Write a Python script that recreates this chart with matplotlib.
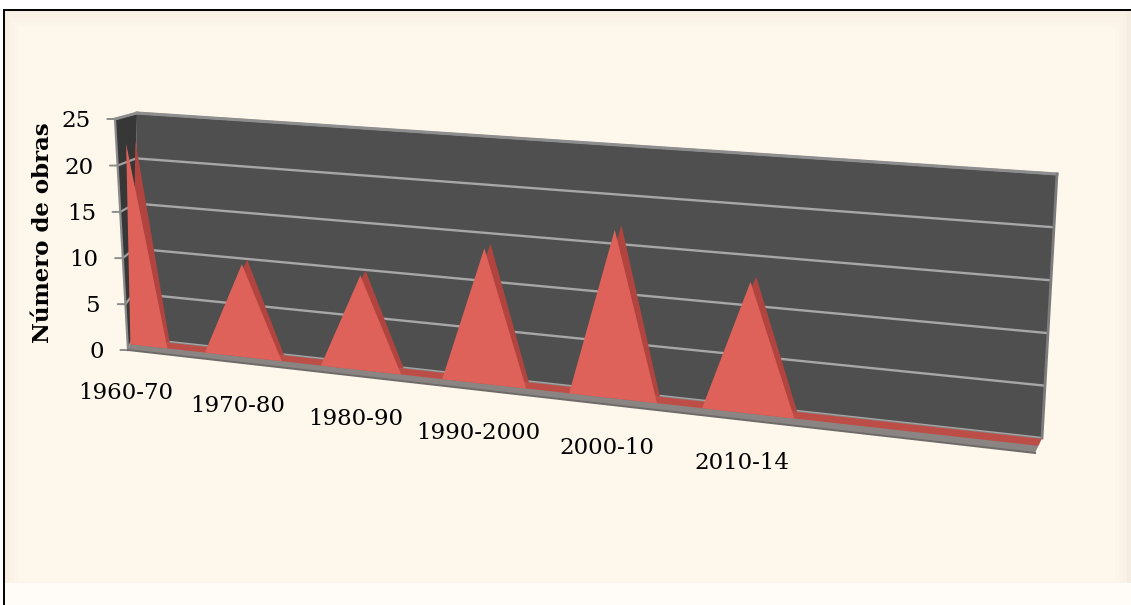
import numpy as np
import matplotlib
matplotlib.use("Agg")
import matplotlib.pyplot as plt
from matplotlib import transforms as mtransforms
from matplotlib.patches import Polygon, Rectangle

# ---------------------------------------------------------------- data
categories = ["1960-70", "", "", "1970-80", "", "", "1980-90", "", "",
              "1990-2000", "", "", "2000-10", "", "", "2010-14",
              "", "", "", "", "", ""]
obras = [22, 0, 0, 10, 0, 0, 10, 0, 0, 14, 0, 0, 17, 0, 0, 13,
         0, 0, 0, 0, 0, 0]
y_ticks = [0, 5, 10, 15, 20, 25]
y_title = "Número de obras"

# ---------------------------------------------------------------- geometry of the 3-D box
W, H, DPI = 1131, 605, 100
X_MAX = len(categories) - 1
Y_MAX = y_ticks[-1]

# back wall corners (s, v) -> canvas pixels
WALL_SRC = [(0, 0), (0, 1), (1, 1), (1, 0)]
WALL_DST = [(133, 338), (137, 113), (1057, 174), (1042, 438)]
# screen displacement of one unit of depth at the same corners
DEPTH_VEC = np.array([(-5.0, 12.0), (-22.0, 6.0), (-16.0, 10.0), (-7.0, 15.0)])
Z_BACK, Z_FRONT = 0.06, 0.52            # depth span of the area series


def fit_homography(src, dst):
    rows, rhs = [], []
    for (x, y), (u, w) in zip(src, dst):
        rows.append([x, y, 1, 0, 0, 0, -u * x, -u * y]); rhs.append(u)
        rows.append([0, 0, 0, x, y, 1, -w * x, -w * y]); rhs.append(w)
    h = np.linalg.solve(np.array(rows, float), np.array(rhs, float))
    return np.append(h, 1.0).reshape(3, 3)


HOMO = fit_homography(WALL_SRC, WALL_DST)


def project(X, Y, Z):
    s = np.asarray(X, float) / X_MAX
    v = np.asarray(Y, float) / Y_MAX
    p = HOMO @ np.vstack([s, v, np.ones_like(s)])
    back = (p[:2] / p[2]).T
    wts = np.column_stack([(1 - s) * (1 - v), (1 - s) * v, s * v, s * (1 - v)])
    return back + wts @ DEPTH_VEC * np.asarray(Z, float)[:, None]


class BoxProjection(mtransforms.Transform):
    """Maps 2-D coordinates lying in one plane of the chart box to canvas pixels."""
    input_dims = output_dims = 2
    is_separable = False
    has_inverse = False

    def __init__(self, fixed, level):
        super().__init__()
        self.fixed, self.level = fixed, level

    def transform_non_affine(self, values):
        a = np.asarray(values, float).reshape(-1, 2)
        u, w = a[:, 0], a[:, 1]
        lv = np.full_like(u, self.level)
        if self.fixed == "z":        # (category, value)
            return project(u, w, lv)
        if self.fixed == "y":        # (category, depth)
            return project(u, lv, w)
        return project(lv, w, u)     # fixed "x": (depth, value)


# ---------------------------------------------------------------- figure
fig = plt.figure(figsize=(W / DPI, H / DPI), dpi=DPI, facecolor="white")
ax = fig.add_axes([0, 0, 1, 1])
ax.set_xlim(0, W)
ax.set_ylim(H, 0)
ax.axis("off")


def plane(fixed, level):
    return BoxProjection(fixed, level) + ax.transData


# chart area with soft bevel
ax.add_patch(Rectangle((4, 10), W + 20, H + 20, facecolor="#F6EDE2",
                       edgecolor="black", lw=1.4, zorder=0))
for k, col in enumerate(["#F9F1E6", "#FBF3E8", "#FCF5EA", "#FEF7EC"]):
    ax.add_patch(Rectangle((6 + 4 * k, 12 + 5 * k), W - 10 - 8 * k, 572 - 6 * k,
                           facecolor=col, edgecolor="none", zorder=0.1 + k * 0.01))
ax.add_patch(Rectangle((5, 583), W, 30, facecolor="#FFFCF7", edgecolor="none", zorder=0.2))

# walls
ax.add_patch(Polygon([[0, 0], [X_MAX, 0], [X_MAX, Y_MAX], [0, Y_MAX]], closed=True,
                     transform=plane("z", 0), facecolor="#4F4F4F", edgecolor="none", zorder=1))
ax.add_patch(Polygon([[0, 0], [0, Y_MAX], [1, Y_MAX], [1, 0]], closed=True,
                     transform=plane("x", 0), facecolor="#373737", edgecolor="none", zorder=1))

# gridlines on back and side walls, ticks and tick labels
for yv in y_ticks:
    ax.plot([0, X_MAX], [yv, yv], transform=plane("z", 0), color="#A7A7A7",
            lw=1.7, solid_capstyle="butt", zorder=2)
    ax.plot([0, 1], [yv, yv], transform=plane("x", 0), color="#A0A0A0",
            lw=1.6, solid_capstyle="butt", zorder=2)
    ax.annotate("", xy=(1, yv), xycoords=plane("x", 0), xytext=(-5.5, 0),
                textcoords="offset points",
                arrowprops=dict(arrowstyle="-", color="#8C8C8C", lw=1.4,
                                shrinkA=0, shrinkB=0), zorder=2)
    ax.annotate(str(yv), xy=(1, yv), xycoords=plane("x", 0), xytext=(-17.5, -1.5),
                textcoords="offset points", ha="right", va="center",
                fontsize=16.5, family="DejaVu Serif", color="black", zorder=5)

# wall rims
ax.plot([0, X_MAX], [Y_MAX, Y_MAX], transform=plane("z", 0), color="#8E8E8E", lw=2.2, zorder=2.1)
ax.plot([X_MAX, X_MAX], [0, Y_MAX], transform=plane("z", 0), color="#7C7C7C", lw=2.0, zorder=2.1)
ax.plot([0, 1], [Y_MAX, Y_MAX], transform=plane("x", 0), color="#8E8E8E", lw=2.0, zorder=2.1)
ax.plot([1, 1], [0, Y_MAX], transform=plane("x", 0), color="#8A8A8A", lw=1.6, zorder=2.1)

# floor
ax.add_patch(Polygon([[0, 0], [X_MAX, 0], [X_MAX, 1], [0, 1]], closed=True,
                     transform=plane("y", 0), facecolor="#8A8583", edgecolor="none", zorder=3))
ax.plot([0, X_MAX], [1, 1], transform=plane("y", 0), color="#6E6A68", lw=1.4, zorder=3.1)

# area series: back face, top face at zero and front face
xs = np.arange(len(obras))
outline = np.column_stack([np.r_[xs, X_MAX, 0], np.r_[obras, 0, 0]])
ax.add_patch(Polygon(outline, closed=True, transform=plane("z", Z_BACK),
                     facecolor="#B1443E", edgecolor="none", zorder=4))
ax.add_patch(Polygon([[0, Z_BACK], [X_MAX, Z_BACK], [X_MAX, Z_FRONT], [0, Z_FRONT]], closed=True,
                     transform=plane("y", 0), facecolor="#BD4D47", edgecolor="none", zorder=4.1))
ax.add_patch(Polygon(outline, closed=True, transform=plane("z", Z_FRONT),
                     facecolor="#DF625A", edgecolor="none", zorder=4.2))

# category labels
for i, lab in enumerate(categories):
    if lab:
        ax.annotate(lab, xy=(i, 1.0), xycoords=plane("y", 0), xytext=(-2, -31),
                    textcoords="offset points", ha="center", va="center",
                    fontsize=16.5, family="DejaVu Serif", color="black", zorder=5)

# axis title
ax.text(43, 233, y_title, rotation=90, ha="center", va="center", fontsize=16.5,
        family="DejaVu Serif", fontweight="bold", color="black", zorder=5)

fig.savefig("out.png", dpi=DPI, facecolor="white")
